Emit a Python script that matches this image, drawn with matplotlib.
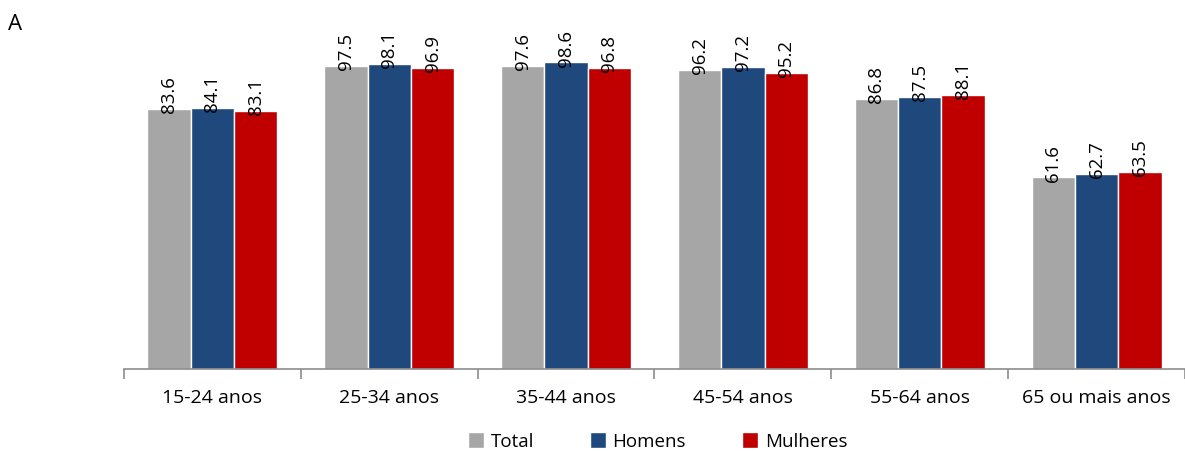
import matplotlib.pyplot as plt
import numpy as np

plt.rcParams['font.family'] = ['Open Sans', 'DejaVu Sans']

categories = ['15-24 anos', '25-34 anos', '35-44 anos', '45-54 anos', '55-64 anos', '65 ou mais anos']
series_names = ['Total', 'Homens', 'Mulheres']
total = [83.6, 97.5, 97.6, 96.2, 86.8, 61.6]
homens = [84.1, 98.1, 98.6, 97.2, 87.5, 62.7]
mulheres = [83.1, 96.9, 96.8, 95.2, 88.1, 63.5]
colors = ['#A6A6A6', '#1F497D', '#C00000']

fig = plt.figure(figsize=(11.85, 4.52), dpi=100)
ax = fig.add_axes([124 / 1185, 82 / 452, (1185 - 124) / 1185, 342 / 452])

x = np.arange(len(categories))
w = 0.245
for i, (vals, name) in enumerate(zip([total, homens, mulheres], series_names)):
    pos = x + (i - 1) * w
    ax.bar(pos, vals, width=w, color=colors[i], edgecolor='white',
           linewidth=1, label=name)
    for xp, v in zip(pos, vals):
        ax.text(xp, v - 1, f'{v:.1f}', rotation=90, ha='center', va='bottom',
                fontsize=13.5, color='black')

ax.set_ylim(0, 110)
ax.set_xlim(-0.5, 5.5 - 10 / 178.5)
for s in ['top', 'right', 'left']:
    ax.spines[s].set_visible(False)
ax.spines['bottom'].set_color('#8C8C8C')
ax.spines['bottom'].set_linewidth(1.2)
ax.set_yticks([])
ax.set_xticks(np.arange(-0.5, 6, 1))
ax.set_xticklabels([])
ax.tick_params(axis='x', which='major', length=7, color='#8C8C8C', width=1.2)
ax.set_xticks(x, minor=True)
ax.set_xticklabels(categories, minor=True, fontsize=14)
ax.tick_params(axis='x', which='minor', length=0, pad=14)

fig.legend(loc='center', bbox_to_anchor=(0.555, 0.022), ncol=3, frameon=False,
           fontsize=13.5, handlelength=0.85, handleheight=1.0, handletextpad=0.35,
           columnspacing=3.0)

fig.text(8 / 1185, 1 - 25 / 452, 'A', fontsize=16, va='center', ha='left')

fig.savefig('out.png', dpi=100)
